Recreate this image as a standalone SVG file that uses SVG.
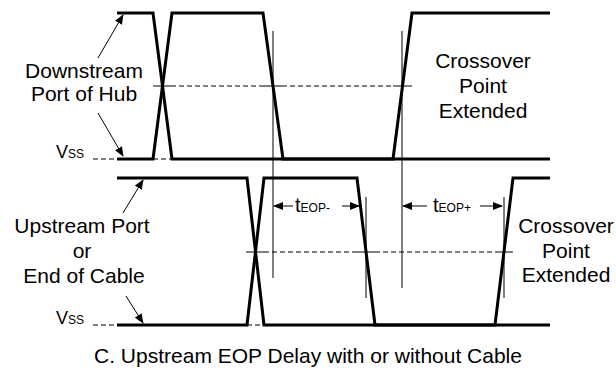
<svg xmlns="http://www.w3.org/2000/svg" width="616" height="371" viewBox="0 0 616 371">
<style>
.sig{fill:none;stroke:#000;stroke-width:3;stroke-linejoin:miter}
.thin{fill:none;stroke:#000;stroke-width:1}
.dash{fill:none;stroke:#000;stroke-width:1;stroke-dasharray:5,3}
.lbl{font-family:"Liberation Sans",Arial,sans-serif;font-size:21px;fill:#000;text-anchor:middle}
.vss{font-family:"Liberation Sans",Arial,sans-serif;font-size:18px;fill:#000}
.t{font-family:"Liberation Sans",Arial,sans-serif;font-size:20px;fill:#000}
.sub{font-size:12px}
</style>
<defs>
<marker id="ah" markerWidth="10" markerHeight="8" refX="9" refY="4" orient="auto" markerUnits="userSpaceOnUse">
<path d="M0,0 L10,4 L0,8 z" fill="#000"/>
</marker>
</defs>
<g id="top-signal">
<path class="sig" d="M117,13 H153 L172,159 H550"/>
<path class="sig" d="M117,159 H153 L172,13 H263 L283,159 H393 L412,13 H550"/>
<path class="dash" d="M93,159 H117 M153,159 H172"/>
<path class="dash" d="M171,86 H264 M282,86 H393"/>
<path class="thin" d="M153,86 H171 M264,86 H282 M393,86 H412"/>
</g>
<g id="bottom-signal">
<path class="sig" d="M117,178 H247 L264,325 H550"/>
<path class="sig" d="M117,325 H247 L264,178 H357 L375,325 H495 L513,178 H550"/>
<path class="dash" d="M93,325 H117 M247,325 H264"/>
<path class="dash" d="M264,252 H357 M375,252 H495"/>
<path class="thin" d="M246,252 H264 M357,252 H375 M495,252 H513"/>
</g>
<g id="connectors">
<path class="thin" d="M273,31 V278 M402,31 V288 M366,197 V298 M504,197 V298"/>
<path class="thin" marker-end="url(#ah)" d="M98,58 L123,15"/>
<path class="thin" marker-end="url(#ah)" d="M98,113 L123,156"/>
<path class="thin" marker-end="url(#ah)" d="M123,213 L143,180"/>
<path class="thin" marker-end="url(#ah)" d="M126,296 L143,323"/>
<path class="thin" marker-end="url(#ah)" d="M293,206 H274"/>
<path class="thin" marker-end="url(#ah)" d="M342,206 H359"/>
<path class="thin" marker-end="url(#ah)" d="M427,206 H403"/>
<path class="thin" marker-end="url(#ah)" d="M480,206 H502"/>
</g>
<g id="label-downstream">
<text class="lbl" x="84" y="78">Downstream</text>
<text class="lbl" x="84" y="101">Port of Hub</text>
</g>
<g id="label-vss-top"><text class="vss" x="56" y="158">V<tspan class="sub">SS</tspan></text></g>
<g id="label-crossover-top">
<text class="lbl" x="483" y="68">Crossover</text>
<text class="lbl" x="483" y="93">Point</text>
<text class="lbl" x="483" y="118">Extended</text>
</g>
<g id="label-upstream">
<text class="lbl" x="82" y="233">Upstream Port</text>
<text class="lbl" x="82" y="258">or</text>
<text class="lbl" x="84" y="283">End of Cable</text>
</g>
<g id="label-vss-bottom"><text class="vss" x="56" y="324">V<tspan class="sub">SS</tspan></text></g>
<g id="label-crossover-bottom">
<text class="lbl" x="566" y="233">Crossover</text>
<text class="lbl" x="566" y="258">Point</text>
<text class="lbl" x="566" y="282">Extended</text>
</g>
<g id="label-teop-minus"><text class="t" x="295" y="212">t<tspan class="sub">EOP-</tspan></text></g>
<g id="label-teop-plus"><text class="t" x="433" y="212">t<tspan class="sub">EOP+</tspan></text></g>
<g id="caption"><text class="lbl" x="308" y="363">C. Upstream EOP Delay with or without Cable</text></g>
</svg>
